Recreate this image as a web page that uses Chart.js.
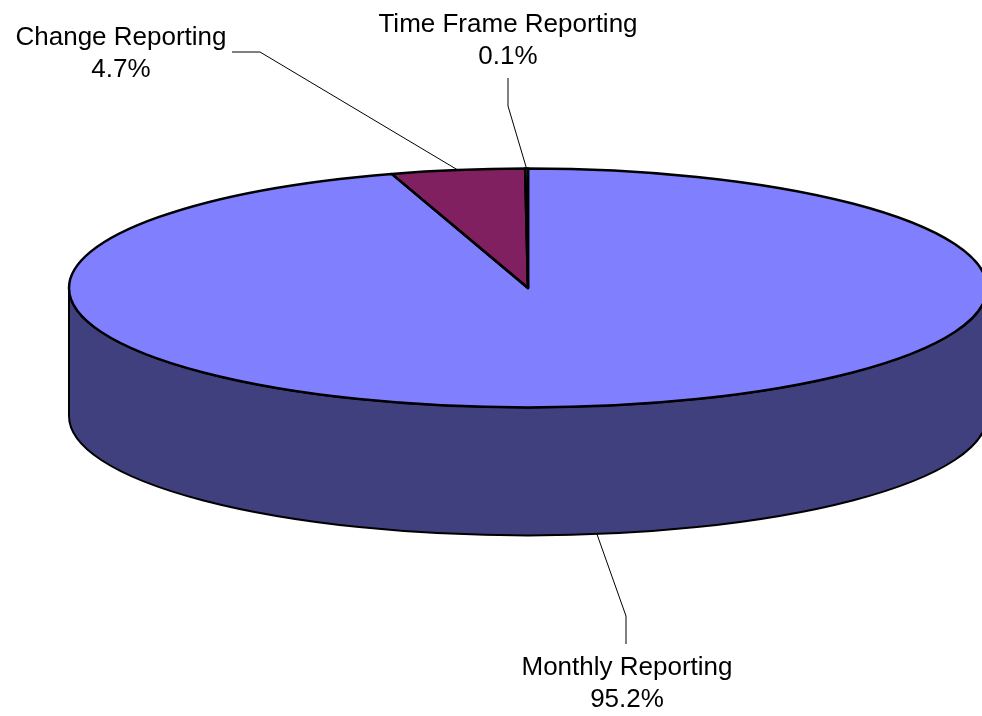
<!DOCTYPE html>
<html>
<head>
<meta charset="utf-8">
<title>Reporting share</title>
<script src="https://cdn.jsdelivr.net/npm/chart.js@4/dist/chart.umd.min.js"></script>
<style>
  html, body { margin: 0; padding: 0; background: #fff; }
  #pie { display: block; }
</style>
</head>
<body>
<canvas id="pie" width="982" height="716"></canvas>
<script>
/* global Chart */

// slice order follows the pie clockwise from 12 o'clock
const categories = ["Monthly Reporting", "Change Reporting", "Time Frame Reporting"];
const shares = [95.2, 4.7, 0.1];
const shareLabels = ["95.2%", "4.7%", "0.1%"];

const topColors = ["#8080ff", "#802060", "#ffffcc"];

// ellipse geometry of the tilted disc
const disc = { cx: 528, cy: 288, rx: 459, ry: 119.5, depth: 128 };

// label text centre / baselines and leader elbows, per slice
const labelLayout = [
  { x: 627, y: 675, elbow: [626, 616], end: [626, 644], front: true },
  { x: 121, y: 45, elbow: [260, 52], end: [232, 52], front: false },
  { x: 508, y: 32, elbow: [508, 106], end: [508, 78], front: false },
];

function darken(hex) {
  const n = parseInt(hex.slice(1), 16);
  const r = (n >> 16) & 255, g = (n >> 8) & 255, b = n & 255;
  return `rgb(${r >> 1},${g >> 1},${b >> 1})`;
}

const pie3d = {
  id: "pie3d",
  beforeDatasetsDraw(chart) {
    const ctx = chart.ctx;
    const arcs = chart.getDatasetMeta(0).data;
    const { cx, cy, rx, ry, depth } = disc;

    ctx.save();
    ctx.lineJoin = "round";

    // side walls: only the front half (0..PI) of each slice is visible
    arcs.forEach((arc, i) => {
      const a0 = Math.max(arc.startAngle, 0);
      const a1 = Math.min(arc.endAngle, Math.PI);
      if (a1 <= a0) return;
      ctx.beginPath();
      ctx.ellipse(cx, cy, rx, ry, 0, a0, a1, false);
      ctx.ellipse(cx, cy + depth, rx, ry, 0, a1, a0, true);
      ctx.closePath();
      ctx.fillStyle = darken(topColors[i]);
      ctx.fill();
      ctx.lineWidth = 2;
      ctx.strokeStyle = "#000";
      ctx.stroke();
    });

    // top face: the library's arcs, squashed into the ellipse
    arcs.forEach((arc) => {
      const R = arc.outerRadius;
      ctx.save();
      ctx.translate(cx, cy);
      ctx.scale(rx / R, ry / R);
      ctx.translate(-arc.x, -arc.y);
      arc.draw(ctx);
      ctx.restore();
    });

    // slice outlines
    ctx.strokeStyle = "#000";
    ctx.lineWidth = 2.5;
    arcs.forEach((arc) => {
      ctx.beginPath();
      ctx.moveTo(cx, cy);
      ctx.ellipse(cx, cy, rx, ry, 0, arc.startAngle, arc.endAngle, false);
      ctx.closePath();
      ctx.stroke();
    });

    // labels with leader lines
    ctx.lineWidth = 1;
    ctx.font = "26px 'Liberation Sans', Arial, sans-serif";
    ctx.textAlign = "center";
    ctx.textBaseline = "alphabetic";
    ctx.fillStyle = "#000";
    arcs.forEach((arc, i) => {
      const L = labelLayout[i];
      const mid = (arc.startAngle + arc.endAngle) / 2;
      const px = cx + rx * Math.cos(mid);
      const py = cy + ry * Math.sin(mid) + (L.front ? depth : 0);
      ctx.beginPath();
      ctx.moveTo(px, py);
      ctx.lineTo(L.elbow[0], L.elbow[1]);
      ctx.lineTo(L.end[0], L.end[1]);
      ctx.stroke();
      ctx.fillText(categories[i], L.x, L.y);
      ctx.fillText(shareLabels[i], L.x, L.y + 32);
    });

    ctx.restore();
    return false;
  },
};

new Chart(document.getElementById("pie").getContext("2d"), {
  type: "pie",
  data: {
    labels: categories,
    datasets: [
      {
        data: shares,
        backgroundColor: topColors,
        borderWidth: 0,
      },
    ],
  },
  options: {
    responsive: false,
    animation: false,
    events: [],
    plugins: {
      legend: { display: false },
      tooltip: { enabled: false },
    },
  },
  plugins: [pie3d],
});
</script>
</body>
</html>
